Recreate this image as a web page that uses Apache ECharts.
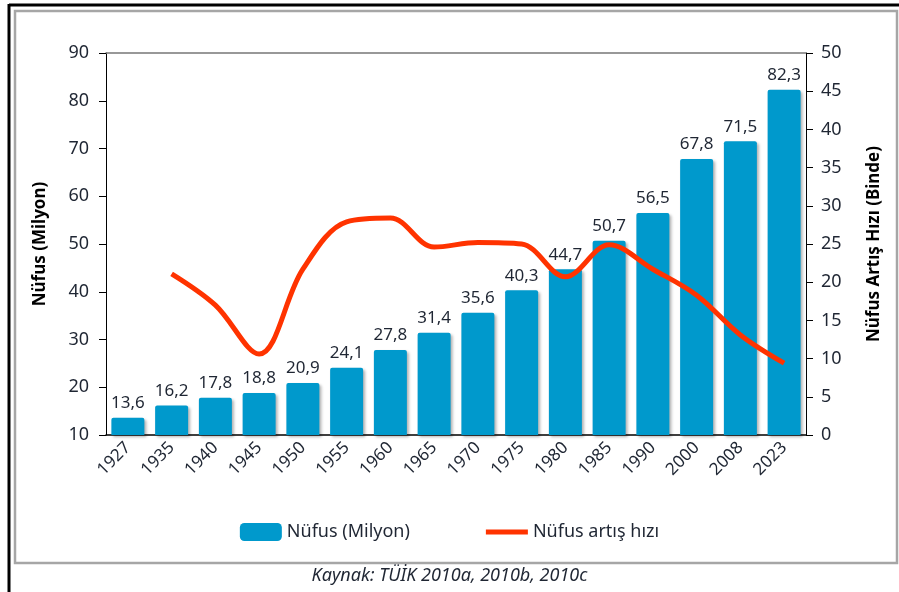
<!DOCTYPE html>
<html>
<head>
<meta charset="utf-8">
<script src="https://cdn.jsdelivr.net/npm/echarts@6/dist/echarts.min.js"></script>
<style>
  html, body { margin: 0; padding: 0; background: #fff; }
  #chart { width: 899px; height: 592px; }
</style>
</head>
<body>
<div id="chart"></div>
<script>
  // yıllar
  const years = ['1927', '1935', '1940', '1945', '1950', '1955', '1960', '1965',
    '1970', '1975', '1980', '1985', '1990', '2000', '2008', '2023'];
  // nüfus (milyon)
  const population = [13.6, 16.2, 17.8, 18.8, 20.9, 24.1, 27.8, 31.4,
    35.6, 40.3, 44.7, 50.7, 56.5, 67.8, 71.5, 82.3];
  // nüfus artış hızı (binde), 1927 yok
  const growthRate = [null, 21.1, 17.0, 10.6, 21.7, 27.9, 28.4, 24.6,
    25.2, 25.0, 20.7, 24.9, 21.7, 18.3, 13.1, 9.4];

  const font = '"Noto Sans", sans-serif';
  const textColor = '#1f2633';
  const chart = echarts.init(document.getElementById('chart'));

  chart.setOption({
    animation: false,
    textStyle: { fontFamily: font },
    grid: { left: 106, right: 93, top: 53, bottom: 157 },
    legend: {
      bottom: 46,
      left: 'center',
      itemGap: 76,
      itemWidth: 42,
      itemHeight: 18,
      textStyle: { fontSize: 18, color: textColor, fontFamily: font },
      data: [
        { name: 'Nüfus (Milyon)', icon: 'roundRect' },
        { name: 'Nüfus artış hızı', icon: 'path://M0,0L42,0L42,5L0,5Z', itemStyle: { color: '#ff3300' } }
      ]
    },
    xAxis: [
      {
        type: 'category',
        data: years,
        axisLine: { lineStyle: { color: '#000', width: 1.5 } },
        axisTick: { lineStyle: { color: '#000' }, length: 6 },
        axisLabel: { rotate: 45, fontSize: 17, color: textColor, margin: 10 }
      },
      {
        type: 'category',
        data: years,
        position: 'top',
        axisLine: { show: true, lineStyle: { color: '#777', width: 1.5 } },
        axisTick: { show: false },
        axisLabel: { show: false }
      }
    ],
    yAxis: [
      {
        type: 'value',
        min: 10,
        max: 90,
        interval: 10,
        name: 'Nüfus (Milyon)',
        nameLocation: 'middle',
        nameRotate: 90,
        nameGap: 57,
        nameTextStyle: { fontSize: 17, fontWeight: 'bold', color: '#000' },
        axisLine: { show: true, lineStyle: { color: '#000' } },
        axisTick: { show: true, length: 7, lineStyle: { color: '#000' } },
        axisLabel: { fontSize: 18, color: textColor, margin: 17 },
        splitLine: { show: false }
      },
      {
        type: 'value',
        min: 0,
        max: 50,
        interval: 5,
        position: 'right',
        name: 'Nüfus Artış Hızı (Binde)',
        nameLocation: 'middle',
        nameRotate: 90,
        nameGap: 60,
        nameTextStyle: { fontSize: 17, fontWeight: 'bold', color: '#000' },
        axisLine: { show: true, lineStyle: { color: '#000' } },
        axisTick: { show: true, length: 7, lineStyle: { color: '#000' } },
        axisLabel: { fontSize: 18, color: textColor, margin: 15 },
        splitLine: { show: false }
      }
    ],
    series: [
      {
        name: 'Nüfus (Milyon)',
        type: 'bar',
        data: population,
        barWidth: 33,
        itemStyle: {
          color: '#0099cc',
          borderRadius: [2, 2, 0, 0],
          shadowColor: 'rgba(0,0,0,0.3)',
          shadowBlur: 3,
          shadowOffsetX: 2,
          shadowOffsetY: 2
        },
        label: {
          show: true,
          position: 'top',
          distance: 6,
          fontSize: 17,
          color: textColor,
          formatter: function (p) {
            return String(p.value).replace('.', ',');
          }
        }
      },
      {
        name: 'Nüfus artış hızı',
        type: 'line',
        yAxisIndex: 1,
        data: growthRate,
        smooth: 0.35,
        symbol: 'none',
        lineStyle: { color: '#ff3300', width: 5 },
        itemStyle: { color: '#ff3300' }
      }
    ],
    graphic: [
      { type: 'line', shape: { x1: 9, y1: 5, x2: 899, y2: 5 }, style: { stroke: '#000', lineWidth: 3 } },
      { type: 'line', shape: { x1: 9, y1: 4, x2: 9, y2: 592 }, style: { stroke: '#000', lineWidth: 3 } },
      { type: 'rect', shape: { x: 15, y: 11, width: 882, height: 552 }, style: { fill: 'none', stroke: '#a6a6a6', lineWidth: 2.5 } },
      {
        type: 'text', left: 'center', top: 567,
        style: { text: 'Kaynak: TÜİK 2010a, 2010b, 2010c', font: 'italic 18px "Noto Sans", sans-serif', fill: textColor }
      }
    ]
  });
</script>
</body>
</html>
